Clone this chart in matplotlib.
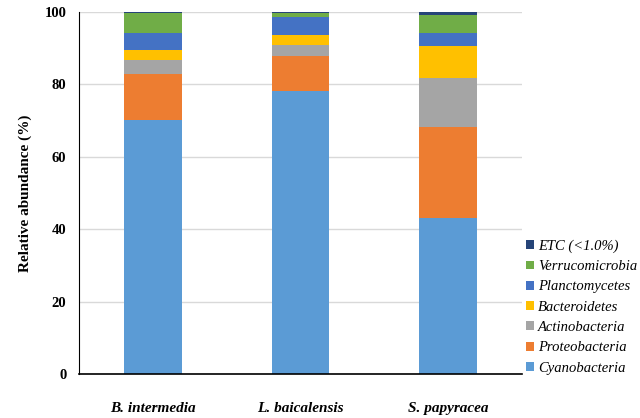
import numpy as np
import matplotlib.pyplot as plt

sites = ['B. intermedia', 'L. baicalensis', 'S. papyracea']
taxa = ['Cyanobacteria', 'Proteobacteria', 'Actinobacteria', 'Bacteroidetes',
        'Planctomycetes', 'Verrucomicrobia', 'ETC (<1.0%)']
cyano = [70.2, 78.2, 43.0]
proteo = [12.7, 9.6, 25.3]
actino = [3.8, 3.2, 13.6]
bactero = [2.8, 2.6, 8.8]
plancto = [4.7, 5.0, 3.4]
verruco = [5.4, 1.1, 5.1]
etc = [0.4, 0.3, 0.8]
colors = ['#5b9bd5', '#ed7d31', '#a5a5a5', '#ffc000', '#4472c4', '#70ad47', '#264478']

vals = np.array([cyano, proteo, actino, bactero, plancto, verruco, etc])

fig = plt.figure(figsize=(6.4, 4.18), dpi=100)
ax = fig.add_axes([0.1234, 0.1053, 0.692, 0.866])

x = np.arange(len(sites))
bottom = np.zeros(len(sites))
handles = []
for v, c, name in zip(vals, colors, taxa):
    h = ax.bar(x, v, 0.39, bottom=bottom, color=c, label=name, zorder=2)
    handles.append(h)
    bottom += v

ax.set_xlim(-0.5, 2.5)
ax.set_ylim(0, 100)
ax.set_yticks([0, 20, 40, 60, 80, 100])
ax.yaxis.grid(True, color='#d9d9d9', lw=1, zorder=0)
for s in ['top', 'right']:
    ax.spines[s].set_visible(False)
ax.spines['left'].set_color('black')
ax.spines['bottom'].set_color('black')
ax.spines['bottom'].set_linewidth(1.2)
ax.tick_params(length=0)
ax.tick_params(axis='y', pad=9)
ax.tick_params(axis='x', pad=20)

ax.set_xticks(x)
ax.set_xticklabels(sites, fontfamily='Liberation Serif', fontweight='bold',
                   fontstyle='italic', fontsize=11)
for t in ax.get_yticklabels():
    t.set_fontfamily('Liberation Serif')
    t.set_fontweight('bold')
    t.set_fontsize(10.5)

ax.set_ylabel('Relative abundance (%)', fontfamily='Liberation Serif',
              fontweight='bold', fontsize=11)
ax.yaxis.set_label_coords(-0.105, 0.5)

fig.legend(handles[::-1], taxa[::-1], loc='center left',
           bbox_to_anchor=(0.822, 0.2656), frameon=False,
           prop={'family': 'Liberation Serif', 'style': 'italic', 'size': 10.5},
           handlelength=0.55, handleheight=0.55, handletextpad=0.25,
           labelspacing=0.5, borderpad=0, borderaxespad=0)

fig.savefig('out.png', dpi=100)
